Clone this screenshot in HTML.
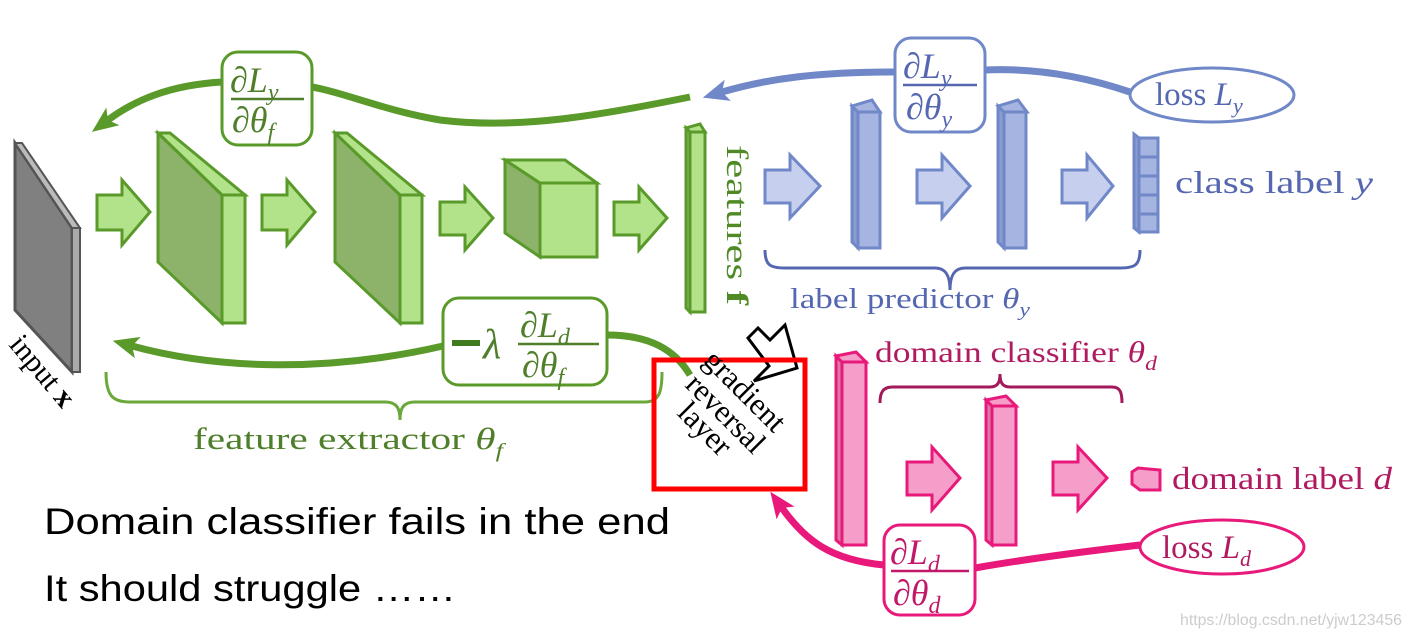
<!DOCTYPE html>
<html><head><meta charset="utf-8"><style>
html,body{margin:0;padding:0;background:#fff}
svg{display:block}
.s{font-family:"Liberation Serif",serif}
.i{font-style:italic}
</style></head><body>
<svg width="1410" height="640" viewBox="0 0 1410 640" xmlns="http://www.w3.org/2000/svg">
<defs>
<marker id="ag" markerWidth="26" markerHeight="22" refX="6" refY="11" orient="auto" markerUnits="userSpaceOnUse"><path d="M0,0 L26,11 L0,22 L6,11 Z" fill="#5a9a2a"/></marker>
<marker id="ab" markerWidth="26" markerHeight="22" refX="6" refY="11" orient="auto" markerUnits="userSpaceOnUse"><path d="M0,0 L26,11 L0,22 L6,11 Z" fill="#7088c8"/></marker>
<marker id="ap" markerWidth="26" markerHeight="22" refX="6" refY="11" orient="auto" markerUnits="userSpaceOnUse"><path d="M0,0 L26,11 L0,22 L6,11 Z" fill="#e8197a"/></marker>
</defs>

<!-- gray input slab -->
<polygon points="15,143 72,228 72,372 15,310" fill="#808080" stroke="#555" stroke-width="3"/>
<polygon points="15,143 22,143 80,228 72,228" fill="#bbb" stroke="#555" stroke-width="2"/>
<polygon points="72,228 80,228 80,372 72,372" fill="#aaa" stroke="#555" stroke-width="2"/>
<text class="s" font-size="30" transform="translate(8,345) rotate(50)">input <tspan font-weight="bold">x</tspan></text>

<!-- green arrows -->
<g fill="#b2e38a" stroke="#5a9a2a" stroke-width="3">
<polygon points="97,195 122,195 122,180 150,212 122,245 122,230 97,230"/>
<polygon points="262,195 287,195 287,180 315,212 287,245 287,230 262,230"/>
<polygon points="440,202 465,202 465,187 493,218 465,250 465,235 440,235"/>
<polygon points="614,202 639,202 639,187 667,218 639,250 639,235 614,235"/>
</g>
<g stroke="#5a9a2a" stroke-width="3">
<polygon points="158,133 222,195 222,323 158,262" fill="#8db36a"/>
<polygon points="158,133 170,133 245,195 222,195" fill="#b2e38a"/>
<polygon points="222,195 245,195 245,323 222,323" fill="#b2e38a"/>
<polygon points="335,133 400,195 400,323 335,262" fill="#8db36a"/>
<polygon points="335,133 347,133 422,195 400,195" fill="#b2e38a"/>
<polygon points="400,195 422,195 422,323 400,323" fill="#b2e38a"/>
<polygon points="505,160 540,183 540,257 505,233" fill="#8db36a"/>
<polygon points="505,160 565,160 597,183 540,183" fill="#b2e38a"/>
<polygon points="540,183 597,183 597,257 540,257" fill="#b2e38a"/>
<polygon points="686,128 690,132 690,312 686,308" fill="#8db36a"/>
<polygon points="686,128 700,124 705,132 690,132" fill="#b2e38a"/>
<polygon points="690,132 705,132 705,312 690,312" fill="#b2e38a"/>
</g>
<text class="s" font-size="31" fill="#4f8a25" transform="translate(727,145) rotate(90)" textLength="160" lengthAdjust="spacingAndGlyphs">features <tspan font-weight="bold">f</tspan></text>

<!-- top green gradient curve -->
<path d="M690,97 C600,115 520,130 440,120 C380,110 340,90 300,85" fill="none" stroke="#5a9a2a" stroke-width="7"/>
<path d="M222,82 C170,85 135,100 108,120" fill="none" stroke="#5a9a2a" stroke-width="7" marker-end="url(#ag)"/>
<rect x="222" y="52" width="90" height="93" rx="16" fill="#fff" stroke="#5a9a2a" stroke-width="3"/>
<text class="s i" font-size="36" fill="#4f7f2a" x="230" y="92">∂L<tspan font-size="24" dy="8">y</tspan></text>
<line x1="231" y1="99" x2="304" y2="99" stroke="#4f7f2a" stroke-width="2.5"/>
<text class="s i" font-size="36" fill="#4f7f2a" x="232" y="132">∂θ<tspan font-size="24" dy="8">f</tspan></text>

<!-- lower green curve -->
<path d="M607,335 C650,335 675,350 690,375" fill="none" stroke="#5a9a2a" stroke-width="7"/>
<path d="M443,346 C330,372 220,370 132,346" fill="none" stroke="#5a9a2a" stroke-width="7" marker-end="url(#ag)"/>
<rect x="443" y="298" width="164" height="87" rx="16" fill="#fff" stroke="#5a9a2a" stroke-width="3"/>
<line x1="452" y1="343" x2="480" y2="343" stroke="#3f7a1f" stroke-width="6"/>
<text class="s i" font-size="42" fill="#4f7f2a" x="483" y="358">λ</text>
<text class="s i" font-size="36" fill="#4f7f2a" x="520" y="337">∂L<tspan font-size="24" dy="8">d</tspan></text>
<line x1="518" y1="344" x2="599" y2="344" stroke="#4f7f2a" stroke-width="2.5"/>
<text class="s i" font-size="36" fill="#4f7f2a" x="522" y="377">∂θ<tspan font-size="24" dy="8">f</tspan></text>

<!-- green brace -->
<path d="M106,372 C106,395 112,402 130,402 L385,402 C398,402 400,410 400,420 C400,410 402,402 415,402 L645,402 C660,402 662,390 662,372" fill="none" stroke="#6aa83a" stroke-width="3"/>
<text class="s" font-size="31" fill="#4f7f2a" x="193" y="449" textLength="310" lengthAdjust="spacingAndGlyphs">feature extractor <tspan class="i">θ</tspan><tspan class="i" font-size="20" dy="8">f</tspan></text>

<!-- blue part -->
<g fill="#c6d0ee" stroke="#7088c8" stroke-width="3">
<polygon points="765,170 790,170 790,155 820,186 790,218 790,203 765,203"/>
<polygon points="917,170 942,170 942,155 970,186 942,218 942,203 917,203"/>
<polygon points="1062,170 1087,170 1087,155 1113,186 1087,218 1087,203 1062,203"/>
</g>
<g stroke="#7088c8" stroke-width="3" fill="#a5b4e0">
<polygon points="852,106 858,112 858,248 852,242" fill="#8a9bd0"/>
<polygon points="852,106 872,100 880,112 858,112"/>
<rect x="858" y="112" width="22" height="136"/>
<polygon points="998,106 1004,112 1004,248 998,242" fill="#8a9bd0"/>
<polygon points="998,106 1018,100 1027,112 1004,112"/>
<rect x="1004" y="112" width="22" height="136"/>
<polygon points="1134,134 1139,138 1139,232 1134,228" fill="#8a9bd0"/>
<rect x="1139" y="138" width="19" height="19"/><rect x="1139" y="157" width="19" height="19"/><rect x="1139" y="176" width="19" height="19"/><rect x="1139" y="195" width="19" height="19"/><rect x="1139" y="214" width="19" height="18"/>
</g>
<text class="s" font-size="32" fill="#5467b0" x="1175" y="193" textLength="198" lengthAdjust="spacingAndGlyphs">class label <tspan class="i">y</tspan></text>
<path d="M765,250 C765,265 770,268 785,268 L935,268 C946,268 950,276 950,290 C950,276 954,268 965,268 L1120,268 C1135,268 1140,265 1140,250" fill="none" stroke="#5467b0" stroke-width="3"/>
<text class="s" font-size="28" fill="#5467b0" x="790" y="308" textLength="240" lengthAdjust="spacingAndGlyphs">label predictor <tspan class="i">θ</tspan><tspan class="i" font-size="19" dy="8">y</tspan></text>
<path d="M1130,92 C1080,75 1030,68 985,70" fill="none" stroke="#7088c8" stroke-width="7"/>
<path d="M895,72 C820,72 770,78 722,92" fill="none" stroke="#7088c8" stroke-width="7" marker-end="url(#ab)"/>
<ellipse cx="1212" cy="95" rx="82" ry="27" fill="#fff" stroke="#7088c8" stroke-width="3"/>
<text class="s" font-size="33" fill="#5467b0" x="1155" y="105">loss <tspan class="i">L</tspan><tspan class="i" font-size="22" dy="8">y</tspan></text>
<rect x="895" y="38" width="90" height="94" rx="16" fill="#fff" stroke="#7088c8" stroke-width="3"/>
<text class="s i" font-size="36" fill="#5467b0" x="903" y="78">∂L<tspan font-size="24" dy="8">y</tspan></text>
<line x1="903" y1="85" x2="977" y2="85" stroke="#5467b0" stroke-width="2.5"/>
<text class="s i" font-size="36" fill="#5467b0" x="906" y="119">∂θ<tspan font-size="24" dy="8">y</tspan></text>

<!-- pink part -->
<g fill="#f59ec9" stroke="#e8197a" stroke-width="3">
<polygon points="907,462 932,462 932,447 960,478 932,510 932,495 907,495"/>
<polygon points="1053,462 1078,462 1078,447 1107,478 1078,510 1078,495 1053,495"/>
<polygon points="836,356 842,362 842,545 836,540" fill="#d97aa8"/>
<polygon points="836,356 856,352 866,362 842,362"/>
<rect x="842" y="362" width="24" height="183"/>
<polygon points="986,400 992,406 992,545 986,540" fill="#d97aa8"/>
<polygon points="986,400 1006,396 1016,406 992,406"/>
<rect x="992" y="406" width="24" height="139"/>
<polygon points="1132,472 1138,468 1160,470 1160,490 1140,490 1132,484" />
</g>
<text class="s" font-size="30" fill="#b01a60" x="875" y="362" textLength="282" lengthAdjust="spacingAndGlyphs">domain classifier <tspan class="i">θ</tspan><tspan class="i" font-size="20" dy="8">d</tspan></text>
<path d="M880,403 C880,392 883,387 893,387 L990,387 C998,387 1000,382 1000,374 C1000,382 1002,387 1010,387 L1112,387 C1120,387 1122,392 1122,403" fill="none" stroke="#a3195b" stroke-width="3"/>
<text class="s" font-size="32" fill="#b01a60" x="1172" y="489" textLength="220" lengthAdjust="spacingAndGlyphs">domain label <tspan class="i">d</tspan></text>
<path d="M1140,545 C1080,552 1020,560 975,568" fill="none" stroke="#e8197a" stroke-width="7"/>
<path d="M884,565 C830,560 805,540 782,508" fill="none" stroke="#e8197a" stroke-width="7" marker-end="url(#ap)"/>
<ellipse cx="1222" cy="547" rx="82" ry="27" fill="#fff" stroke="#e8197a" stroke-width="3"/>
<text class="s" font-size="33" fill="#b01a60" x="1162" y="558">loss <tspan class="i">L</tspan><tspan class="i" font-size="22" dy="8">d</tspan></text>
<rect x="884" y="525" width="91" height="90" rx="16" fill="#fff" stroke="#e8197a" stroke-width="3"/>
<text class="s i" font-size="36" fill="#c2186a" x="890" y="564">∂L<tspan font-size="24" dy="8">d</tspan></text>
<line x1="891" y1="571" x2="969" y2="571" stroke="#c2186a" stroke-width="2.5"/>
<text class="s i" font-size="36" fill="#c2186a" x="893" y="605">∂θ<tspan font-size="24" dy="8">d</tspan></text>

<!-- gradient reversal -->
<polygon points="748,338 758,328 770,340 785,325 797,368 754,381 769,366" fill="#fff" stroke="#000" stroke-width="3"/>
<rect x="654" y="360" width="151" height="129" fill="none" stroke="#f00" stroke-width="5"/>
<g class="s" font-size="31" fill="#000">
<text transform="translate(702,362) rotate(45)">gradient</text>
<text transform="translate(684,386) rotate(45)">reversal</text>
<text transform="translate(676,414) rotate(45)">layer</text>
</g>

<text font-family="'Liberation Sans',sans-serif" font-size="37" fill="#000" x="44" y="534" textLength="626" lengthAdjust="spacingAndGlyphs">Domain classifier fails in the end</text>
<text font-family="'Liberation Sans',sans-serif" font-size="37" fill="#000" x="44" y="601" textLength="412" lengthAdjust="spacingAndGlyphs">It should struggle ……</text>
<text font-family="'Liberation Sans',sans-serif" font-size="16" fill="#ccc" x="1180" y="625" textLength="222" lengthAdjust="spacingAndGlyphs">https://blog.csdn.net/yjw123456</text>
</svg>
</body></html>
